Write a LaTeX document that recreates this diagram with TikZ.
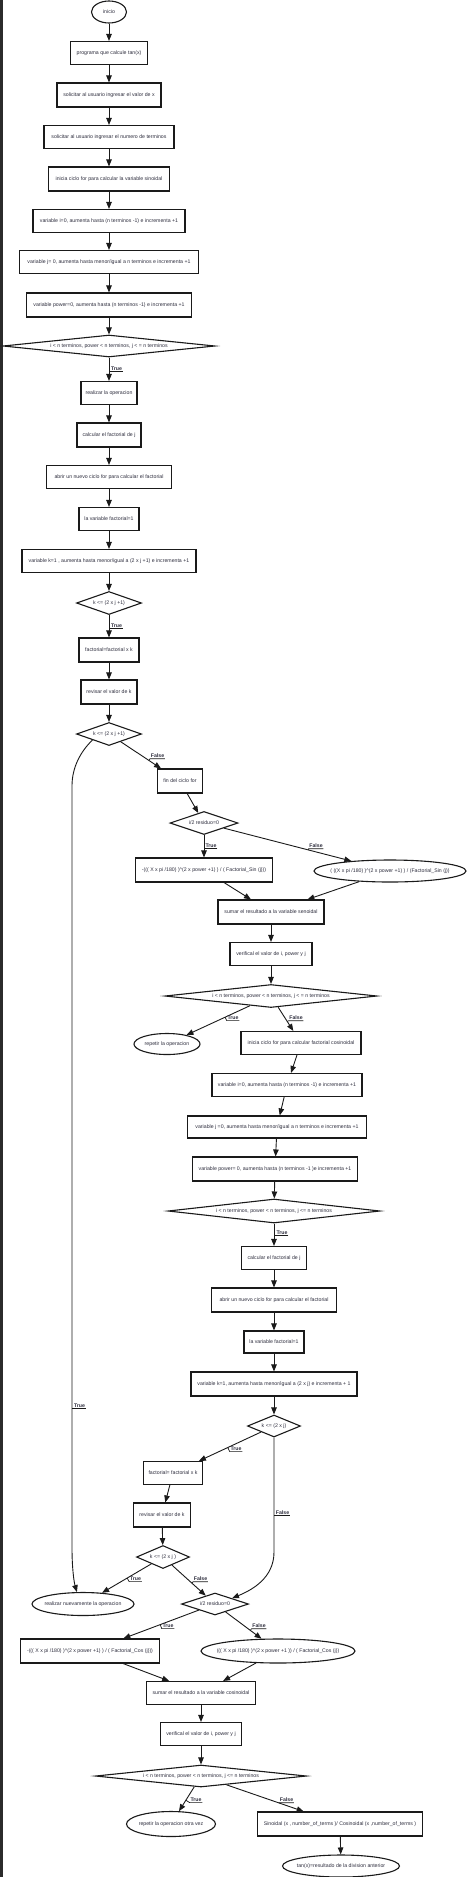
\documentclass[tikz,border=0pt]{standalone}
\usepackage{fontspec}
\setmainfont{Liberation Sans}
\usetikzlibrary{shapes.geometric,arrows.meta,calc}
\newcommand\zb[1]{\makebox[0pt]{#1}}
\definecolor{txt}{HTML}{2E2E3E}
\definecolor{edgec}{HTML}{1A1A1A}
\definecolor{bordc}{HTML}{2B2B2B}
\begin{document}
\begin{tikzpicture}[x=1pt,y=-1pt,
  every node/.style={font=\fontsize{5.2}{6}\selectfont, text=txt},
  pbox/.style={draw=edgec, line width=1.1pt, rectangle, inner sep=0pt},
  pdia/.style={draw=edgec, line width=1.1pt, diamond, inner sep=0pt, shape aspect=4},
  pell/.style={draw=edgec, line width=1.1pt, ellipse, inner sep=0pt},
  wh/.style 2 args={minimum width=#1pt, minimum height=#2pt},
  parr/.style={draw=edgec, line width=0.9pt, -{Triangle[length=7pt,width=5.5pt]}},
  plab/.style={font=\fontsize{5.2}{6}\selectfont\bfseries, inner sep=0.6pt},
  pul/.style={draw=edgec, line width=0.7pt}]
\useasboundingbox (0,0) rectangle (469,1877);
\fill[white] (0,0) rectangle (469,1877);
\fill[bordc] (0,0) rectangle (2.6,1877);

% ---- sine part ----
\node[pell,wh={35}{22}] (start) at (109,12) {\zb{inicio}};
\node[pbox,wh={77}{23}] (b1) at (109,53) {\zb{programa que calcule tan(x)}};
\node[pbox,wh={104}{24}] (b2) at (109,95) {\zb{solicitar al usuario ingresar el valor de x}};
\node[pbox,wh={130}{23}] (b3) at (109,137) {\zb{solicitar al usuario ingresar el numero de terminos}};
\node[pbox,wh={121}{24}] (b4) at (109,179) {\zb{inicia ciclo for para calcular la variable sinoidal}};
\node[pbox,wh={152}{23}] (b5) at (109,221) {\zb{variable i=0, aumenta hasta (n terminos -1) e incrementa +1}};
\node[pbox,wh={179}{23}] (b6) at (109,262) {\zb{variable j= 0, aumenta hasta menor/igual a n terminos e incrementa +1}};
\node[pbox,wh={165}{24}] (b7) at (109,305) {\zb{variable power=0, aumenta hasta (n terminos -1) e incrementa +1}};
\node[pdia,wh={212}{22}] (d1) at (109,346) {\zb{i < n terminos, power < n terminos, j < = n terminos}};
\node[pbox,wh={56}{23}] (b8) at (109,393) {\zb{realizar la operacion}};
\node[pbox,wh={64}{24}] (b9) at (109,435) {\zb{calcular el factorial de j}};
\node[pbox,wh={125}{23}] (b10) at (109,477) {\zb{abrir un nuevo ciclo for para calcular el factorial}};
\node[pbox,wh={60}{23}] (b11) at (109,519) {\zb{la variable factorial=1}};
\node[pbox,wh={174}{23}] (b12) at (109,561) {\zb{variable k=1 , aumenta hasta menor/igual a (2 x j +1) e incrementa +1}};
\node[pdia,wh={65}{23}] (d2) at (109,603) {\zb{k <= (2 x j +1)}};
\node[pbox,wh={60}{24}] (b13) at (109,650) {\zb{factorial=factorial x k}};
\node[pbox,wh={56}{24}] (b14) at (109,692) {\zb{revisar el valor de k}};
\node[pdia,wh={65}{23}] (d3) at (109,734) {\zb{k <= (2 x j +1)}};
\node[pbox,wh={45}{24}] (fin) at (180,781) {\zb{fin del ciclo for}};
\node[pdia,wh={68}{23}] (d4) at (204,823) {\zb{i/2 residuo=0}};
\node[pbox,wh={137}{24}] (s1) at (204,870) {\zb{-((( X x pi /180) )\textasciicircum(2 x power +1) ) / ( Factorial\_Sin (j)))}};
\node[pell,wh={152}{22}] (s2) at (390,871) {\zb{( ((X x pi /180) )\textasciicircum(2 x power +1) ) / (Factorial\_Sin (j))}};
\node[pbox,wh={106}{24}] (s3) at (271,912) {\zb{sumar el resultado a la variable senoidal}};
\node[pbox,wh={82}{23}] (s4) at (271,954) {\zb{verifical el valor de i, power y j}};
\node[pdia,wh={212}{23}] (d5) at (271,996) {\zb{i < n terminos, power < n terminos, j < = n terminos}};
\node[pell,wh={66}{21}] (rep1) at (167,1044) {\zb{repetir la operacion}};

% ---- cosine part ----
\node[pbox,wh={120}{23}] (c1) at (301,1043) {\zb{inicia ciclo for para calcular factorial cosinoidal}};
\node[pbox,wh={150}{23}] (c2) at (287,1085) {\zb{variable i=0, aumenta hasta (n terminos -1) e incrementa +1}};
\node[pbox,wh={179}{22}] (c3) at (277,1127) {\zb{variable j =0, aumenta hasta menor/igual a n terminos e incrementa +1}};
\node[pbox,wh={165}{24}] (c4) at (275,1169) {\zb{variable power= 0, aumenta hasta (n terminos -1 )e incrementa +1}};
\node[pdia,wh={212}{24}] (d6) at (274,1211) {\zb{i < n terminos, power < n terminos, j <= n terminos}};
\node[pbox,wh={65}{23}] (c5) at (274,1258) {\zb{calcular el factorial de j}};
\node[pbox,wh={125}{24}] (c6) at (274,1300) {\zb{abrir un nuevo ciclo for para calcular el factorial}};
\node[pbox,wh={60}{22}] (c7) at (274,1342) {\zb{la variable factorial=1}};
\node[pbox,wh={166}{24}] (c8) at (274,1384) {\zb{variable k=1, aumenta hasta menor/igual a (2 x j) e incrementa + 1}};
\node[pdia,wh={53}{22}] (d7) at (274,1426) {\zb{k <= (2 x j)}};
\node[pbox,wh={59}{23}] (c9) at (173,1473) {\zb{factorial= factorial x k}};
\node[pbox,wh={57}{24}] (c10) at (162,1515) {\zb{revisar el valor de k}};
\node[pdia,wh={53}{23}] (d9) at (163,1557) {\zb{k <= (2 x j )}};
\node[pell,wh={102}{23}] (rn) at (83,1604) {\zb{realizar nuevamente la operacion}};
\node[pdia,wh={67}{22}] (d8) at (215,1604) {\zb{i/2 residuo=0}};
\node[pbox,wh={139}{24}] (k1) at (90,1651) {\zb{-((( X x pi /180) )\textasciicircum(2 x power +1) ) / ( Factorial\_Cos (j)))}};
\node[pell,wh={154}{24}] (k2) at (278,1651) {\zb{((( X x pi /180) )\textasciicircum(2 x power +1 )) / ( Factorial\_Cos (j))}};
\node[pbox,wh={109}{23}] (k3) at (201,1693) {\zb{sumar el resultado a la variable cosinoidal}};
\node[pbox,wh={81}{23}] (k4) at (201,1734) {\zb{verifical el valor de i, power y j}};
\node[pdia,wh={211}{22}] (d10) at (201,1776) {\zb{i < n terminos, power < n terminos, j <= n terminos}};
\node[pell,wh={89}{25}] (rep2) at (171,1824) {\zb{repetir la operacion otra vez}};
\node[pbox,wh={165}{24}] (sc) at (340,1824) {\zb{Sinoidal (x , number\_of\_terms )/ Cosinoidal (x ,number\_of\_terms )}};
\node[pell,wh={117}{22}] (tan) at (341,1866) {\zb{tan(x)=resultado de la division anterior}};

% ---- plain connectors ----
\foreach \a/\b in {start/b1,b1/b2,b2/b3,b3/b4,b4/b5,b5/b6,b6/b7,b7/d1,
  d1/b8,b8/b9,b9/b10,b10/b11,b11/b12,b12/d2,d2/b13,b13/b14,b14/d3,
  d3/fin,fin/d4,d4/s1,d4/s2,s1/s3,s2/s3,s3/s4,s4/d5,d5/rep1,d5/c1,
  c1/c2,c2/c3,c3/c4,c4/d6,d6/c5,c5/c6,c6/c7,c7/c8,c8/d7,d7/c9,c9/c10,c10/d9,
  d9/rn,d9/d8,d8/k1,d8/k2,k1/k3,k2/k3,k3/k4,k4/d10,d10/rep2,d10/sc,sc/tan}
  \draw[parr] (\a) -- (\b);

% ---- curved connectors ----
\coordinate (v3a) at (72,786);
\coordinate (v3b) at (72,1548);
\draw[parr] (d3.south west) .. controls (80,752) and (72,768) .. (v3a) -- (v3b) .. controls (72,1568) and (74,1582) .. (rn.117);
\coordinate (v7) at (274,1552);
\draw[parr] (d7) -- (v7) .. controls (274,1578) and (252,1590) .. (d8.north east);

% ---- labels ----
\newcommand\elab[5]{%
  \node[plab] (#1) at (#2) {#3};
  \draw[pul] (#1.south east) -- (#1.south west) -- ($(#4)!(#1.south west)!(#5)$);}
\elab{L1}{116.5,369}{True}{d1}{b8}
\elab{L2}{116.5,626}{True}{d2}{b13}
\elab{L3}{157.5,756}{False}{d3}{fin}
\elab{L4}{211,846}{True}{d4}{s1}
\elab{L5}{316,846}{False}{d4}{s2}
\elab{L6}{233,1018}{True}{d5}{rep1}
\elab{L7}{296,1018}{False}{d5}{c1}
\elab{L8}{282,1233}{True}{d6}{c5}
\elab{L9}{236,1449}{True}{d7}{c9}
\elab{L12}{135.5,1579}{True}{d9}{rn}
\elab{L13}{200.5,1579}{False}{d9}{d8}
\elab{L14}{168,1626}{True}{d8}{k1}
\elab{L15}{259,1626}{False}{d8}{k2}
\elab{L16}{196,1800}{True}{d10}{rep2}
\elab{L17}{286.5,1800}{False}{d10}{sc}
\node[plab] (L10) at (282.5,1513) {False};
\draw[pul] (L10.south east) -- (L10.south west) -- (L10.south west -| v7);
\node[plab] (L11) at (79.5,1406) {True};
\draw[pul] (L11.south east) -- (L11.south west) -- (L11.south west -| v3a);
\end{tikzpicture}
\end{document}
